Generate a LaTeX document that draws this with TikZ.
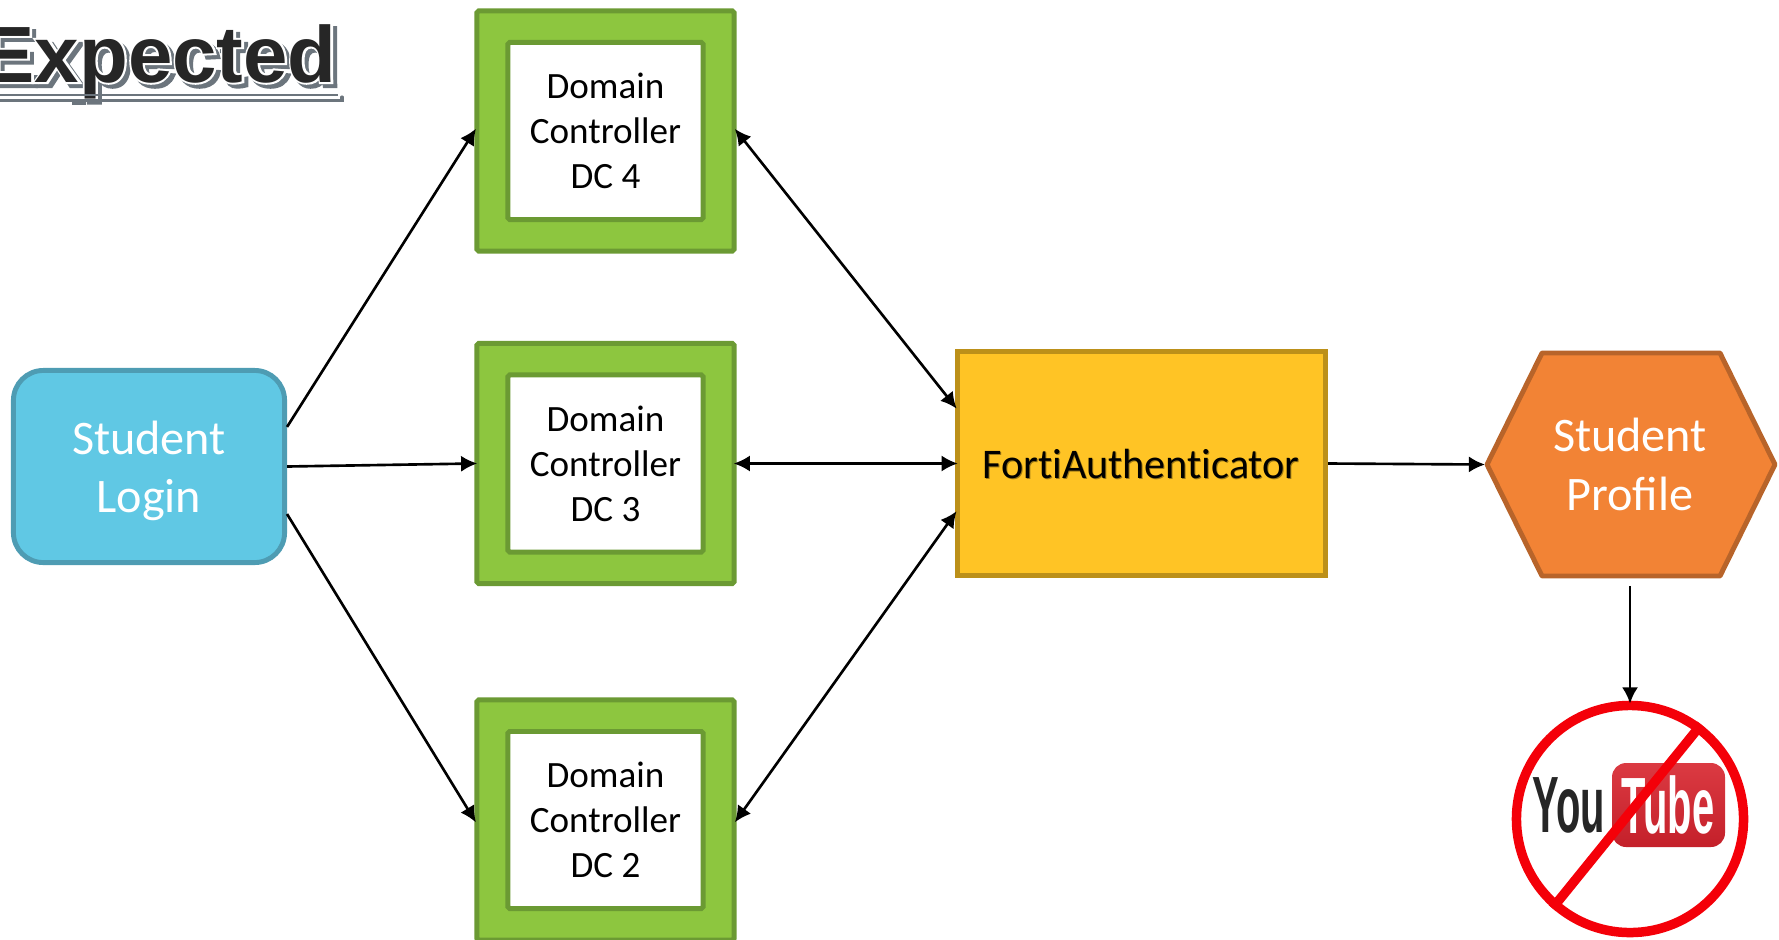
\documentclass[tikz,border=0pt]{standalone}
\usepackage{fontspec}
\setmainfont{Carlito}
\newfontfamily\titleface{Liberation Sans}
\newfontfamily\titlehaloface{Liberation Sans}[FakeBold=5]
\newfontfamily\logoface{Liberation Sans}
\usetikzlibrary{arrows.meta}
\definecolor{dcgreen}{HTML}{8DC63F}
\definecolor{dcborder}{HTML}{6B9A33}
\definecolor{loginblue}{HTML}{60C8E4}
\definecolor{loginborder}{HTML}{4E9CB3}
\definecolor{fortiyellow}{HTML}{FFC425}
\definecolor{fortiborder}{HTML}{BC9019}
\definecolor{profileorange}{HTML}{F28335}
\definecolor{profileborder}{HTML}{B8642A}
\definecolor{titledark}{HTML}{262626}
\definecolor{titlegrey}{HTML}{6C757D}
\definecolor{nored}{HTML}{F40009}
\definecolor{tubetop}{HTML}{DB3A42}
\definecolor{tubebottom}{HTML}{C4202A}
\tikzset{
  dcouter/.style={draw=dcborder, fill=dcgreen, line width=1.4pt, rounded corners=0.5pt, minimum width=2.57cm, minimum height=2.40cm},
  dcinner/.style={draw=dcborder, fill=white, line width=1.4pt, rounded corners=0.5pt, minimum width=1.95cm, minimum height=1.77cm, align=center, font=\fontsize{10.55}{12.8}\selectfont, inner sep=0pt},
  bigtext/.style={align=center, font=\fontsize{13.7}{16.6}\selectfont},
  link/.style={line width=0.75pt, shorten >=-0.8pt, -{Latex[length=4.6pt,width=4.6pt]}},
  biglink/.style={line width=0.75pt, shorten >=-0.8pt, shorten <=-0.8pt, {Latex[length=4.6pt,width=4.6pt]}-{Latex[length=4.6pt,width=4.6pt]}},
  titletext/.style={anchor=base west, inner sep=0pt, font=\fontsize{22.7}{26}\selectfont\bfseries},
  logotext/.style={inner sep=0pt, xscale=0.5, font=\logoface\bfseries\fontsize{22.7}{26}\selectfont}
}
\begin{document}
\begin{tikzpicture}[x=0.01cm, y=-0.01cm]
\useasboundingbox (0,0) rectangle (1779,939);
\clip (0,0) rectangle (1779,939);
% title
\node[titletext, text=titlegrey] (title_shadow) at (-15,86) {\titlehaloface Expected};
\node[titletext, text=white] (title_halo) at (-19,82) {\titlehaloface Expected};
\node[titletext, text=titledark] (title) at (-19,82) {\titleface Expected};
\draw[titlegrey, line width=0.6pt] (0,95) -- (338,95);
\draw[titlegrey, line width=0.9pt, line cap=round] (0,100.5) -- (342,100.5) -- (342,97);
\fill[titlegrey] (72,100) rectangle (86,105);
% login
\node[draw=loginborder, fill=loginblue, line width=1.4pt, rounded corners=8.5pt, minimum width=2.71cm, minimum height=1.92cm] (P_login) at (149,466.5) {};
\node[text=white, bigtext] (P_login_text) at (149,471) {Student\\Login};
% domain controllers
\foreach \name/\ypos/\dcnum in {four/131/4, three/463.5/3, two/820/2} {
  \node[dcouter] (P_\name) at (605.5,\ypos) {};
  \node[dcinner] (P_\name_in) at (605.5,\ypos) {Domain\\Controller\\DC \dcnum};
}
% forti
\node[draw=fortiborder, fill=fortiyellow, line width=1.4pt, minimum width=3.68cm, minimum height=2.24cm] (P_forti) at (1141.5,463.5) {};
\node[text=black!55!fortiyellow, opacity=0.7, font=\fontsize{12}{14}\selectfont] (P_forti_shadow) at (1142,465) {Fort\kern0pt iAuthent\kern0pt icator};
\node[font=\fontsize{12}{14}\selectfont] (P_forti_text) at (1141,464) {Fort\kern0pt iAuthent\kern0pt icator};
% profile
\fill[profileorange, draw=profileborder, line width=1.4pt, line join=round] (1487,464.5) -- (1542,353) -- (1720,353) -- (1775,464.5) -- (1720,576) -- (1542,576) -- cycle;
\node[text=white, minimum width=2.94cm, minimum height=2.41cm, inner sep=0pt, bigtext] (P_profile) at (1630,464.5) {Student\\Profile};
% no youtube
\shade[top color=tubetop, bottom color=tubebottom, rounded corners=4pt] (1612,763) rectangle (1725,847);
\node[logotext, text=black!85] (P_you) at (1569,805) {You};
\node[logotext, text=white] (P_tube) at (1668,805) {Tube};
\node[circle, draw=nored, line width=2.7pt, minimum size=2.27cm, inner sep=0pt] (P_nogo) at (1630,819) {};
\draw[nored, line width=2.7pt] (P_nogo.53) -- (P_nogo.229);
% connectors
\draw[link] (P_login.16) -- (P_four.west);
\draw[link] (P_login.east) -- (P_three.west);
\draw[link] (P_login.-19) -- (P_two.west);
\draw[biglink] (P_four.east) -- (P_forti.163.6);
\draw[biglink] (P_three.east) -- (P_forti.west);
\draw[biglink] (P_two.east) -- (P_forti.195.7);
\draw[link] (P_forti.east) -- (P_profile.west);
\draw[link] (P_profile.south) -- (P_nogo.north);
\end{tikzpicture}
\end{document}
